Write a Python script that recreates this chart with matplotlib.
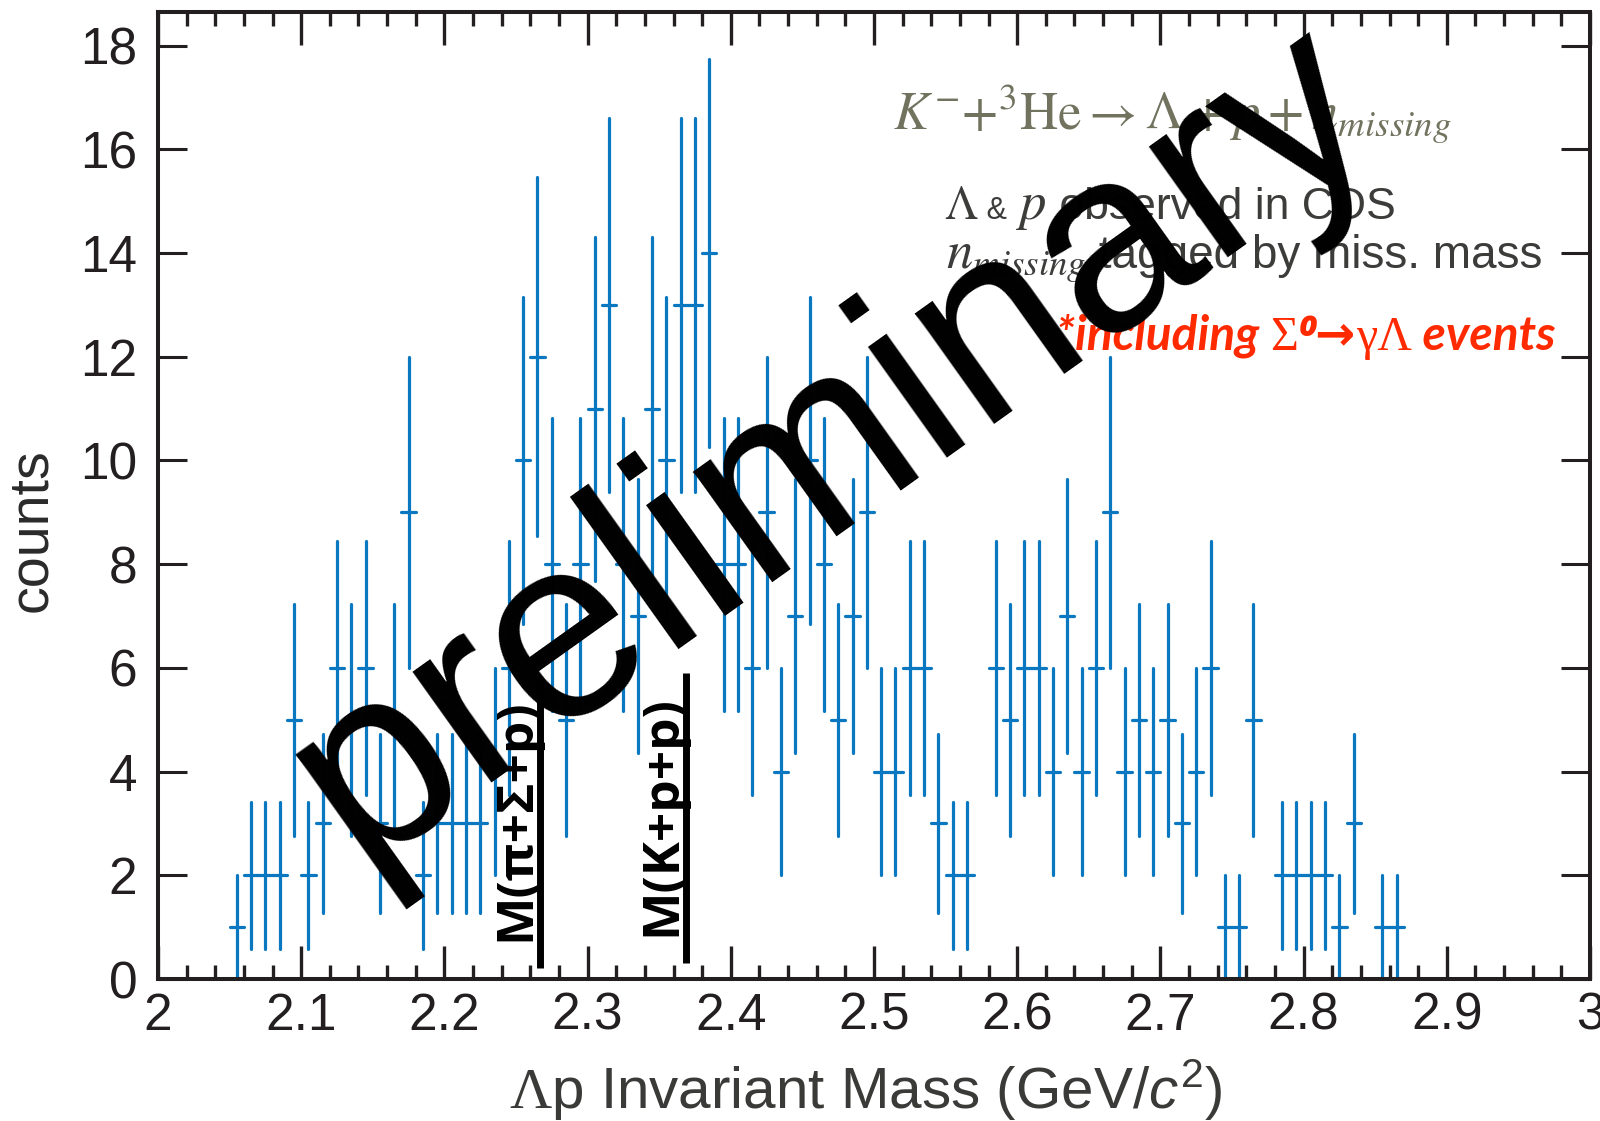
import numpy as np
import matplotlib
matplotlib.use("Agg")
import matplotlib.pyplot as plt
from matplotlib.offsetbox import TextArea, HPacker, AnnotationBbox

plt.rcParams['font.family'] = ['Liberation Sans', 'DejaVu Sans']
plt.rcParams['mathtext.fontset'] = 'custom'
plt.rcParams['mathtext.rm'] = 'Liberation Serif'
plt.rcParams['mathtext.it'] = 'Liberation Sans:italic'
plt.rcParams['mathtext.sf'] = 'Liberation Sans'
plt.rcParams['mathtext.bf'] = 'Liberation Sans:bold'

# Lambda-p invariant mass histogram (bin centres in GeV/c^2, counts)
mass = [2.055, 2.065, 2.075, 2.085, 2.095, 2.105, 2.115, 2.125, 2.135, 2.145,
        2.155, 2.165, 2.175, 2.185, 2.195, 2.205, 2.215, 2.225, 2.235, 2.245,
        2.255, 2.265, 2.275, 2.285, 2.295, 2.305, 2.315, 2.325, 2.335, 2.345,
        2.355, 2.365, 2.375, 2.385, 2.395, 2.405, 2.415, 2.425, 2.435, 2.445,
        2.455, 2.465, 2.475, 2.485, 2.495, 2.505, 2.515, 2.525, 2.535, 2.545,
        2.555, 2.565, 2.575, 2.585, 2.595, 2.605, 2.615, 2.625, 2.635, 2.645,
        2.655, 2.665, 2.675, 2.685, 2.695, 2.705, 2.715, 2.725, 2.735, 2.745,
        2.755, 2.765, 2.775, 2.785, 2.795, 2.805, 2.815, 2.825, 2.835, 2.845,
        2.855, 2.865]
counts = [1, 2, 2, 2, 5, 2, 3, 6, 5, 6,
          3, 5, 9, 2, 3, 3, 3, 3, 4, 6,
          10, 12, 8, 5, 8, 11, 13, 8, 7, 11,
          10, 13, 13, 14, 8, 8, 6, 9, 4, 7,
          10, 8, 5, 7, 9, 4, 4, 6, 6, 3,
          2, 2, 0, 6, 5, 6, 6, 4, 7, 4,
          6, 9, 4, 5, 4, 5, 3, 4, 6, 1,
          1, 5, 0, 2, 2, 2, 2, 1, 3, 0,
          1, 1]
bin_half = 0.005

# threshold markers
thr_mass = [2.267, 2.369]
thr_top = [5.8, 5.9]
thr_bottom = [0.21, 0.31]
thr_labels = ['M(π+Σ+p)', 'M(K+p+p)']

xticks = [2.0, 2.1, 2.2, 2.3, 2.4, 2.5, 2.6, 2.7, 2.8, 2.9, 3.0]
xticklabels = ['2', '2.1', '2.2', '2.3', '2.4', '2.5', '2.6', '2.7', '2.8', '2.9', '3']
yticks = [0, 2, 4, 6, 8, 10, 12, 14, 16, 18]

blue = '#0a78c0'
axcol = '#231f20'

fig = plt.figure(figsize=(16, 11.21), dpi=100)
ax = fig.add_axes([0.09875, 0.12667, 0.895, 0.86263])

m = np.array(mass)
c = np.array(counts, dtype=float)
keep = c > 0
cont = ax.errorbar(m[keep], c[keep], yerr=np.sqrt(c[keep]), xerr=bin_half,
                   fmt='none', ecolor=blue, elinewidth=2.3, capsize=0)
for lc in cont[2]:
    lc.set_capstyle('round')

for xm, yt, yb, lab in zip(thr_mass, thr_top, thr_bottom, thr_labels):
    ax.plot([xm, xm], [yb, yt], color='black', lw=5, solid_capstyle='butt')
    ax.text(xm - 0.0078, yb + 0.52, lab, rotation=90, rotation_mode='anchor',
            ha='left', va='baseline', fontsize=37, fontweight='bold',
            family=['Open Sans', 'DejaVu Sans'], color='black')

ax.set_xlim(2, 3)
ax.set_ylim(0, 18.65)
ax.set_xticks(xticks)
ax.set_xticklabels(xticklabels)
ax.xaxis.set_minor_locator(matplotlib.ticker.MultipleLocator(0.02))
ax.set_yticks(yticks)

for s in ax.spines.values():
    s.set_linewidth(2.9)
    s.set_color(axcol)
ax.tick_params(axis='x', which='major', direction='in', length=24, width=2.4,
               top=True, labelsize=37, pad=9, colors=axcol)
ax.tick_params(axis='x', which='minor', direction='in', length=10, width=2.4,
               top=True, colors=axcol)
ax.tick_params(axis='y', which='major', direction='in', length=21, width=2.2,
               right=True, labelsize=37, pad=15, colors=axcol)
ax.tick_params(axis='y', which='minor', left=False, right=False)

ax.set_xlabel(r'$\Lambda$p Invariant Mass (GeV/$c^{\mathsf{2}}$)', fontsize=42, color='#3a3a38')
ax.xaxis.set_label_coords(0.494, -0.081)
fig.text(6 / 1600, 0.527, 'counts', rotation=90, ha='left', va='center',
         fontsize=40, color='#2a2a2a')


def put_line(parts, x, y):
    boxes = [TextArea(s, textprops=p) for s, p in parts]
    pack = HPacker(children=boxes, align='baseline', pad=0, sep=0)
    ab = AnnotationBbox(pack, (x, y), xycoords='figure pixels', box_alignment=(0, 0),
                        frameon=False, pad=0, zorder=3)
    ax.add_artist(ab)


gray = '#72735f'
dark = '#3c3c3a'
red = '#ff2a00'
put_line([(r'$K^{-}{+}^{3}\mathrm{He}\rightarrow\Lambda+p+n_{missing}$',
           dict(fontsize=38, color=gray, math_fontfamily='stix'))], 893, 1121 - 145)
put_line([(r'$\Lambda$', dict(fontsize=34, color=dark, math_fontfamily='stix')),
          (' & ', dict(fontsize=22, color=dark)),
          (r'$p$', dict(fontsize=38, color=dark, math_fontfamily='stix')),
          (' observed in CDS', dict(fontsize=32, color=dark))], 944, 1121 - 232)
put_line([(r'$n_{missing}$', dict(fontsize=38, color=dark, math_fontfamily='stix')),
          (' tagged by miss. mass', dict(fontsize=33, color=dark))], 946, 1121 - 284)
bi = dict(fontsize=34.5, color=red, fontweight='bold', fontstyle='italic',
          family=['Lato', 'DejaVu Sans'])
sg = dict(fontsize=34.5, color=red, family=['Liberation Serif', 'DejaVu Serif'])
put_line([('*including ', bi), ('Σ', sg),
          ('⁰→', dict(bi, family=['Open Sans', 'DejaVu Sans'])),
          ('γΛ', sg), (' events', bi)], 1056, 1121 - 362)

ax.text(2.472, 10.3, 'preliminary', fontsize=186, rotation=35.5, rotation_mode='anchor',
        ha='center', va='center', color='black', zorder=10)

fig.savefig('out.png', dpi=100)
